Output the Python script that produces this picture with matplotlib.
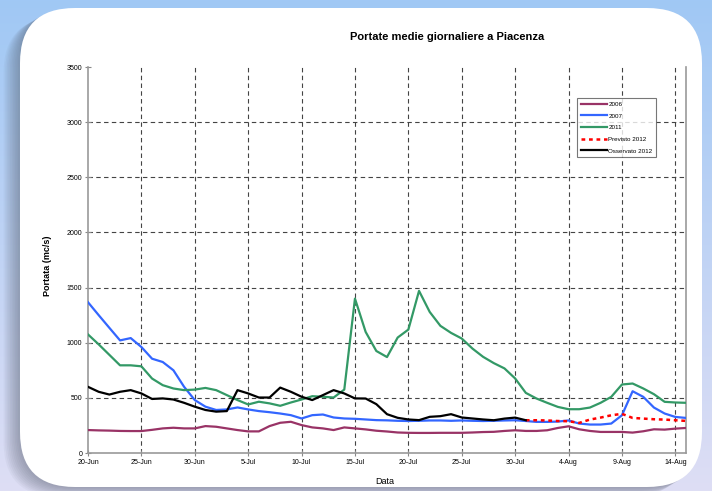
"""
Portate medie giornaliere a Piacenza (giugno-agosto), confronto anni.
"""

import matplotlib
matplotlib.use("Agg")
import matplotlib.pyplot as plt
import matplotlib.dates as mdates
from matplotlib.patches import FancyBboxPatch
from matplotlib.ticker import FuncFormatter
import numpy as np
import pandas as pd

plt.rcParams['font.family'] = ['Liberation Sans', 'DejaVu Sans']

# giorni 20-Jun .. 15-Aug (57 valori)
days = pd.date_range('2012-06-20', '2012-08-15', freq='D')

q2006 = [208, 205, 203, 200, 199, 199, 210, 223, 229, 223,
         223, 244, 238, 223, 208, 196, 196, 244, 274, 283,
         253, 232, 223, 208, 232, 223, 214, 202, 195, 186,
         183, 182, 182, 183, 183, 183, 186, 190, 192, 200,
         206, 200, 200, 206, 227, 242, 215, 200, 191, 191,
         191, 185, 197, 215, 212, 221, 227]

q2007 = [1367, 1250, 1135, 1021, 1042, 961, 855, 825, 750, 600,
         480, 420, 390, 395, 413, 395, 380, 370, 358, 343,
         313, 343, 349, 322, 313, 310, 304, 298, 296, 292,
         290, 292, 295, 295, 292, 295, 292, 290, 292, 295,
         297, 290, 282, 282, 285, 295, 267, 258, 258, 267,
         342, 560, 509, 412, 358, 327, 318]

q2011 = [1075, 985, 890, 795, 795, 786, 675, 615, 585, 570,
         575, 590, 570, 525, 480, 440, 465, 450, 428, 458,
         485, 515, 510, 503, 575, 1400, 1098, 925, 870, 1047,
         1119, 1470, 1279, 1153, 1089, 1038, 947, 872, 815, 767,
         676, 545, 494, 455, 418, 397, 397, 412, 455, 509,
         621, 630, 585, 533, 464, 458, 455]

# osservato 2012: 20-Jun .. 31-Jul
oss2012 = [600, 555, 530, 555, 570, 540, 490, 495, 485, 455,
           420, 390, 375, 380, 570, 540, 503, 503, 593, 555,
           510, 480, 525, 570, 540, 495, 494, 443, 352, 319,
           304, 298, 328, 334, 352, 322, 313, 304, 297, 312,
           321, 297]

# previsto 2012: 31-Jul .. 15-Aug
prev2012 = [297, 297, 295, 290, 288, 273, 303, 321, 342, 355,
            318, 312, 306, 303, 297, 291]

y_ticks = [0, 500, 1000, 1500, 2000, 2500, 3000, 3500]

W, H = 712, 491
fig = plt.figure(figsize=(W / 100, H / 100), dpi=100)

# sfondo a gradiente + scheda bianca arrotondata
bg = fig.add_axes([0, 0, 1, 1], zorder=0)
bg.set_xlim(0, W)
bg.set_ylim(H, 0)
bg.axis('off')
t = np.linspace(0, 1, H)[:, None, None]
top = np.array([160, 200, 245]) / 255
bot = np.array([222, 222, 244]) / 255
grad = top * (1 - t) + bot * t
grad = np.repeat(grad, W, axis=1)
bg.imshow(grad, extent=(0, W, H, 0), aspect='auto', zorder=0)
for i in range(10):
    off = 2 + i * 1.6
    bg.add_patch(FancyBboxPatch((20 - off, 8 + off * 0.6), 682, 479,
                                boxstyle="round,pad=0,rounding_size=55",
                                fc='#505868', ec='none', alpha=0.05, zorder=1))
bg.add_patch(FancyBboxPatch((20, 8), 682, 479,
                            boxstyle="round,pad=0,rounding_size=55",
                            fc='white', ec='none', zorder=2))

ax = fig.add_axes([88 / W, 1 - 453 / H, 598 / W, 386 / H], zorder=1)
ax.set_facecolor('none')

ax.plot(days, q2006, color='#993366', lw=1.6, label='2006', zorder=3)
ax.plot(days, q2007, color='#3366ff', lw=1.6, label='2007', zorder=3)
ax.plot(days, q2011, color='#339966', lw=1.6, label='2011', zorder=3)
ax.plot(days[41:], prev2012, color='#ff0000', lw=1.8, linestyle=(0, (1.5, 1.5)),
        label='Previsto 2012', zorder=4)
ax.plot(days[:42], oss2012, color='black', lw=1.6, label='Osservato 2012', zorder=4)

x_ticks = days[::5]
ax.set_xlim(days[0], days[-1])
ax.set_ylim(0, 3500)
ax.set_xticks(x_ticks)
ax.set_yticks(y_ticks)
ax.xaxis.set_major_formatter(FuncFormatter(
    lambda v, p: "%d-%s" % (mdates.num2date(v).day, mdates.num2date(v).strftime('%b'))))

for v in y_ticks[1:-1]:
    ax.axhline(v, color='#444444', lw=0.8, dashes=(4, 3), zorder=1)
for d in x_ticks[1:]:
    ax.axvline(d, color='#444444', lw=0.8, dashes=(4, 3), zorder=1)

ax.spines['top'].set_visible(False)
for s in ['left', 'bottom', 'right']:
    ax.spines[s].set_color('#999999')
    ax.spines[s].set_linewidth(1.2)
ax.tick_params(direction='inout', length=4, width=0.8, color='#888888',
               labelsize=5, pad=2)

fig.text(48 / W, 1 - 266 / H, "Portata (mc/s)", rotation=90,
         ha='center', va='center', fontsize=6.5, fontweight='bold')
fig.text(385 / W, 1 - 481 / H, "Data", ha='center', va='center', fontsize=6.5)

fig.text(447 / W, 1 - 37 / H, "Portate medie giornaliere a Piacenza",
         ha='center', va='center', fontsize=8, fontweight='bold')

leg = ax.legend(loc='upper left', bbox_to_anchor=(0.818, 0.92), fontsize=4.5,
                frameon=True, fancybox=False, edgecolor='#555555',
                handlelength=4.2, handletextpad=0.2, labelspacing=1.0,
                borderaxespad=0, borderpad=0.6)
leg.get_frame().set_linewidth(0.8)

fig.savefig("out.png", dpi=100)
